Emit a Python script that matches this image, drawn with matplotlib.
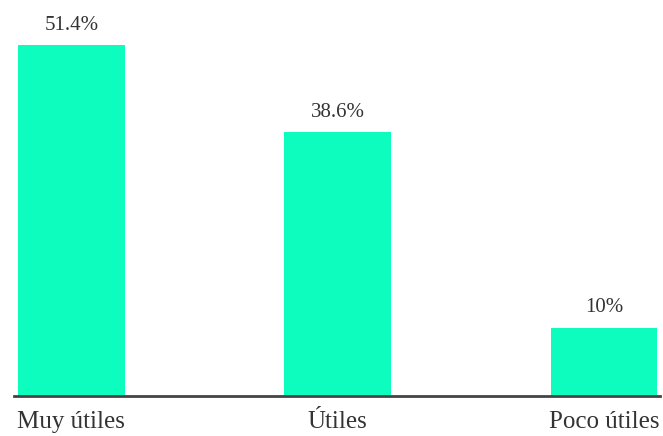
import matplotlib
matplotlib.use("Agg")
import matplotlib.pyplot as plt

categories = ["Muy útiles", "Útiles", "Poco útiles"]
values = [51.4, 38.6, 10]
value_labels = ["51.4%", "38.6%", "10%"]

plt.rcParams["font.family"] = ["Liberation Serif", "DejaVu Serif"]

W, H = 663, 436
fig = plt.figure(figsize=(W / 100, H / 100), dpi=100)
ax = fig.add_axes([14 / W, 40 / H, 646 / W, 396 / H])

x = list(range(len(categories)))
ax.bar(x, values, width=0.4, color="#0DFDBF", zorder=2)

for xi, v, lab in zip(x, values, value_labels):
    ax.annotate(lab, (xi, v), xytext=(0, 11), textcoords="offset points",
                ha="center", va="baseline", fontsize=15, color="#333333")

ax.set_xlim(-0.215, 2.21)
ax.set_ylim(0, 58.0)
ax.set_xticks(x)
ax.set_xticklabels(categories, fontsize=18, color="#333333")
ax.tick_params(axis="x", length=0, pad=11)
ax.set_yticks([])
for s in ["top", "right", "left"]:
    ax.spines[s].set_visible(False)
ax.spines["bottom"].set_color("#444444")
ax.spines["bottom"].set_linewidth(2)
ax.spines["bottom"].set_zorder(3)

fig.savefig("out.png", dpi=100)
